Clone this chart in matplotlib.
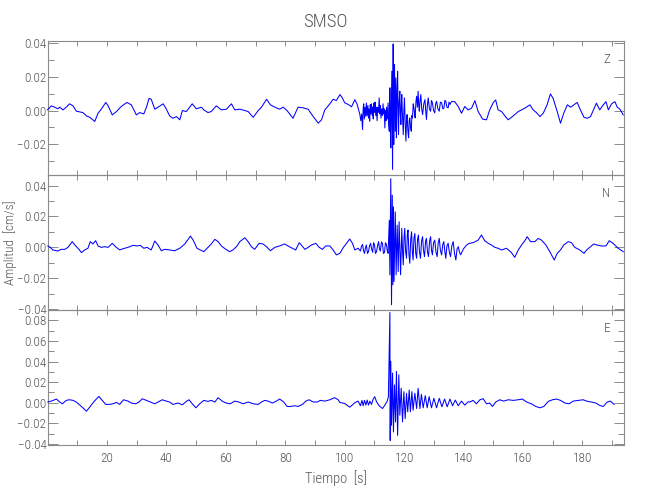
import matplotlib
matplotlib.use("Agg")
import matplotlib.pyplot as plt
from matplotlib.ticker import MultipleLocator, FuncFormatter
from matplotlib import font_manager

names = {f.name for f in font_manager.fontManager.ttflist}
fam = [n for n in ['Roboto Condensed', 'Liberation Sans Narrow', 'Open Sans Condensed',
                   'DejaVu Sans Condensed', 'Roboto', 'DejaVu Sans'] if n in names]
plt.rcParams['font.family'] = fam
plt.rcParams['font.weight'] = 'light'
plt.rcParams['axes.labelweight'] = 'light'

title = "SMSO"
xlabel = "Tiempo  [s]"
ylabel = "Amplitud  [cm/s]"
components = ["Z", "N", "E"]

# ---- Z component (time s, amplitude cm/s) ----
t_z = [0.0, 1.3, 2.4, 3.5, 4.1, 5.2, 6.3, 7.4, 8.6, 9.7, 10.8, 11.9, 13.1, 14.2, 15.9, 17.0, 18.1,
       19.6, 20.4, 21.8, 23.2, 24.8, 26.7, 28.2, 29.9, 31.0, 32.4, 33.3, 34.2, 34.9, 36.1, 37.2,
       38.9, 40.0, 41.1, 42.2, 43.4, 44.5, 45.4, 46.7, 48.7, 50.1, 51.8, 52.6, 54.0, 55.1, 56.8,
       58.5, 60.2, 61.9, 63.0, 64.7, 66.4, 67.5, 69.2, 70.9, 72.0, 73.7, 75.0, 76.5, 78.1, 79.3,
       80.6, 82.6, 84.3, 86.0, 87.7, 89.4, 91.1, 92.2, 93.3, 95.0, 96.1, 97.2,
       98.4, 99.2, 100.0, 101.2, 102.3, 103.4, 104.2,
       105.1, 105.4, 105.7, 106.0, 106.2, 106.4, 106.6, 106.85, 107.1, 107.3, 107.55, 107.8, 108.0,
       108.2, 108.4, 108.6, 108.8, 109.0, 109.25, 109.45, 109.6, 109.85, 110.05, 110.2, 110.45,
       110.65, 110.9, 111.1, 111.35, 111.6, 111.8, 112.0, 112.2, 112.45, 112.7, 112.9, 113.1,
       113.3, 113.5, 113.7, 113.9, 114.1, 114.35, 114.6, 114.8, 115.0,
       115.2, 115.35, 115.5, 115.7, 115.85, 116.0, 116.1, 116.2, 116.3, 116.4, 116.5, 116.6,
       116.75, 116.9, 117.0, 117.1, 117.2, 117.3, 117.4, 117.6, 117.8, 117.95, 118.1, 118.3,
       118.55, 118.7, 118.9, 119.05, 119.2, 119.45, 119.7, 119.9, 120.1, 120.35, 120.6, 120.8,
       121.0, 121.25, 121.5, 121.7, 121.9, 122.15, 122.4, 122.6, 122.8, 123.05, 123.3, 123.5,
       123.7, 123.95, 124.2, 124.45, 124.7, 124.9, 125.1, 125.35, 125.6, 125.9, 126.2, 126.6,
       127.0, 127.25, 127.5, 127.8, 128.1, 128.5, 128.9, 129.2, 129.5, 129.9, 130.3, 130.6, 130.9,
       131.35, 131.8, 132.2, 132.6, 133.0, 133.4, 133.7, 134.0, 134.4, 134.8, 135.1, 135.4,
       135.9, 137.0, 138.2, 139.3, 140.4, 141.5, 142.7, 143.8, 144.9, 146.4,
       147.7, 148.8, 150.0, 150.8, 151.6, 152.8, 153.9, 155.0, 156.7, 158.4, 159.5, 160.6, 162.3,
       163.4, 164.5, 165.7, 166.8, 168.1, 169.2, 170.1, 171.5, 172.6, 173.7, 174.9, 176.0, 177.1,
       178.2, 179.3, 180.5, 181.6, 182.7, 183.8, 184.7, 185.8, 187.0, 187.9, 188.7, 189.8, 190.9,
       191.7, 192.6, 193.7]
z = [0.0004, 0.0028, 0.0020, 0.0010, 0.0020, 0.0004, 0.0020, 0.0040, 0.0028, -0.0004, -0.0008,
     -0.0012, -0.0032, -0.0040, -0.0065, -0.0016, 0.0008, 0.0048, 0.0028, -0.0026, -0.0006, 0.0024,
     0.0048, 0.0034, -0.0026, -0.0012, -0.0020, 0.0020, 0.0073, 0.0067, 0.0008, 0.0020, 0.0040,
     0.0008, -0.0032, -0.0046, -0.0036, -0.0055, 0.0000, -0.0006, 0.0040, 0.0010, 0.0020, 0.0004,
     -0.0012, -0.0006, 0.0028, 0.0004, 0.0008, 0.0040, 0.0004, 0.0008, 0.0000, -0.0006, -0.0040,
     0.0000, 0.0020, 0.0067, 0.0034, 0.0020, 0.0008, 0.0020, 0.0000, -0.0046, 0.0020, 0.0016,
     0.0008, -0.0036, -0.0075, -0.0055, 0.0004, 0.0040, 0.0067, 0.0060,
     0.0095, 0.0075, 0.0046, 0.0036, 0.0022, 0.0065, 0.0036,
     -0.0024, -0.0060, -0.0020, -0.0113, 0.0010, 0.0040, -0.0050, 0.0020, -0.0035, 0.0045, -0.0030,
     0.0030, -0.0045, 0.0010, -0.0063, 0.0035, -0.0020, 0.0040, -0.0030, 0.0020, -0.0050, 0.0045,
     -0.0010, 0.0050, -0.0030, 0.0020, -0.0060, 0.0020, -0.0010, 0.0075, -0.0020, 0.0030, -0.0045,
     0.0010, -0.0030, 0.0040, -0.0020, 0.0010, -0.0103, 0.0000, -0.0060, 0.0020, -0.0050, 0.0045,
     -0.0080, -0.0123,
     0.0135, -0.0100, -0.0222, 0.0050, 0.0234, -0.0150, -0.0350, 0.0100, 0.0396, 0.0000, -0.0202,
     0.0050, 0.0273, 0.0000, -0.0123, 0.0050, 0.0194, 0.0000, -0.0162, 0.0100, 0.0234, 0.0000,
     -0.0143, 0.0050, 0.0115, -0.0020, -0.0083, 0.0030, 0.0095, -0.0040, -0.0143, 0.0000, 0.0075,
     -0.0080, -0.0182, -0.0050, -0.0024, -0.0120, -0.0162, -0.0060, -0.0044, -0.0100, -0.0123,
     -0.0030, -0.0044, 0.0040, 0.0016, -0.0020, -0.0044, 0.0050, 0.0085, 0.0020, 0.0115, 0.0030,
     -0.0004, 0.0060, 0.0095, 0.0010, -0.0024, 0.0040, 0.0065, 0.0000, -0.0053, 0.0030, 0.0075,
     0.0010, -0.0004, 0.0060, 0.0046, 0.0000, -0.0014, 0.0040, 0.0055, 0.0010, -0.0004, 0.0050,
     0.0046, 0.0010, 0.0016, 0.0060, 0.0055, 0.0020, 0.0016, 0.0050, 0.0036,
     0.0053, 0.0053, 0.0024, -0.0016, 0.0024, 0.0004, 0.0014, 0.0059, -0.0006, -0.0051,
     -0.0055, 0.0004, 0.0048, 0.0063, 0.0004, -0.0006, -0.0032, -0.0055, -0.0032, -0.0006, 0.0004,
     0.0014, 0.0034, 0.0004, -0.0012, -0.0036, -0.0016, 0.0034, 0.0099, 0.0073, -0.0006, -0.0075,
     -0.0016, 0.0034, 0.0020, 0.0034, 0.0048, 0.0004, -0.0040, -0.0046, -0.0036, 0.0008, 0.0044,
     0.0004, 0.0034, 0.0053, 0.0004, 0.0040, 0.0053, 0.0020, 0.0008, -0.0026]

# ---- N component ----
t_n = [0.1, 0.9, 1.8, 3.5, 4.6, 5.8, 6.9, 8.3, 9.5, 10.6, 11.4, 12.5, 13.6, 14.4, 15.3, 16.2, 17.0,
       18.1, 19.2, 20.4, 21.8, 22.9, 24.3, 25.4, 27.1, 28.8, 30.1, 31.2, 32.4, 33.5, 34.9, 36.1,
       37.2, 38.3, 39.4, 41.1, 42.8, 44.5, 46.2, 48.1, 49.0, 50.3, 51.4, 52.6, 54.0, 55.1, 56.3,
       57.4, 58.5, 60.0, 61.3, 62.4, 63.8, 64.7, 66.4, 67.5, 68.6, 69.7, 71.2, 72.5, 73.7, 75.0,
       76.5, 78.1, 79.8, 80.9, 82.4, 83.5, 84.7, 85.4, 86.6, 87.7, 88.8, 90.3, 91.4, 92.5, 93.6,
       95.0, 96.1, 97.2, 98.35, 99.5, 100.6, 101.7, 102.6, 103.4, 104.5,
       105.3, 105.6, 106.0, 106.3, 106.65, 107.0, 107.3, 107.65, 108.0, 108.35, 108.7, 109.05,
       109.4, 109.7, 110.0, 110.35, 110.7, 111.05, 111.4, 111.7, 112.0, 112.35, 112.7, 113.05,
       113.4, 113.7, 114.05, 114.3, 114.6,
       115.0, 115.2, 115.5, 115.75, 116.0, 116.2, 116.4, 116.6, 117.0, 117.3, 117.65, 118.0, 118.3,
       118.8,
       119.2, 119.45, 119.7, 119.95, 120.2, 120.5, 120.8, 121.05, 121.3, 121.6, 121.9, 122.2,
       122.5, 122.75, 123.0, 123.3, 123.6, 123.9, 124.2, 124.5, 124.8, 125.15, 125.5, 125.85,
       126.2, 126.5, 126.85, 127.2, 127.5, 127.85, 128.2, 128.55, 128.9, 129.2, 129.5, 129.9,
       130.3, 130.7, 131.1, 131.45, 131.8, 132.2, 132.6, 133.0, 133.35, 133.7, 134.0, 134.4,
       134.8, 135.2, 135.6, 136.05, 136.5, 136.95, 137.4, 137.8, 138.2, 138.6, 139.0,
       139.9, 141.0, 141.9, 143.2, 144.9, 146.0, 147.1, 148.3, 149.4,
       150.5, 151.6, 152.8, 154.4, 156.1, 157.2, 158.4, 159.5, 160.6, 161.4, 162.5, 164.0, 165.1,
       166.2, 167.7, 169.0, 170.5, 171.5, 172.6, 173.7, 175.2, 176.3, 177.4, 179.1, 180.5, 181.4,
       182.7, 183.8, 184.9, 186.4, 187.9, 189.0, 190.3, 192.0, 193.7]
n = [0.0009, 0.0000, -0.0017, -0.0024, -0.0013, -0.0013, 0.0000, 0.0037, 0.0009, -0.0013, -0.0034,
     -0.0017, -0.0006, 0.0037, 0.0022, 0.0043, 0.0009, 0.0000, 0.0004, 0.0000, 0.0026, 0.0004,
     -0.0017, -0.0009, 0.0000, 0.0013, 0.0009, 0.0013, -0.0006, 0.0000, -0.0017, 0.0041, 0.0015,
     -0.0022, -0.0013, -0.0017, -0.0022, -0.0006, 0.0022, 0.0073, 0.0047, -0.0006, -0.0017, -0.0028,
     0.0000, 0.0022, 0.0052, 0.0037, 0.0009, -0.0013, -0.0028, -0.0017, 0.0009, 0.0037, 0.0062,
     0.0037, 0.0004, -0.0013, 0.0026, 0.0022, 0.0004, -0.0022, 0.0000, 0.0009, 0.0022, 0.0009,
     -0.0006, -0.0017, 0.0030, 0.0015, -0.0013, 0.0000, 0.0015, 0.0026, 0.0000, -0.0013, 0.0009,
     0.0009, -0.0017, -0.0049, -0.0039, -0.0002, 0.0026, 0.0054, 0.0026, -0.0017, -0.0006,
     -0.0024, 0.0005, 0.0019, -0.0020, -0.0039, 0.0000, 0.0015, -0.0040, -0.0028, 0.0010, 0.0026,
     -0.0010, -0.0032, 0.0030, 0.0019, -0.0040, -0.0028, 0.0010, 0.0037, -0.0010, -0.0024, 0.0035,
     0.0026, -0.0040, -0.0032, 0.0030, 0.0019, -0.0020, -0.0039,
     0.0176, -0.0178, 0.0445, -0.0372, 0.0338, -0.0243, 0.0262, -0.0221, 0.0230, -0.0178, 0.0144,
     -0.0157, 0.0166, -0.0178,
     0.0123, -0.0020, -0.0114, 0.0060, 0.0123, -0.0030, -0.0071, 0.0080, 0.0112, -0.0040, -0.0103,
     0.0050, 0.0101, -0.0030, -0.0082, 0.0060, 0.0090, -0.0040, -0.0071, 0.0050, 0.0080, -0.0030,
     -0.0071, 0.0040, 0.0069, -0.0020, -0.0060, 0.0040, 0.0058, -0.0030, -0.0060, 0.0040, 0.0069,
     -0.0020, -0.0049, 0.0030, 0.0047, -0.0030, -0.0060, 0.0030, 0.0058, -0.0020, -0.0049, 0.0020,
     0.0037, -0.0030, -0.0071, 0.0010, 0.0026, -0.0030, -0.0060, 0.0010, 0.0037, -0.0040, -0.0082,
     -0.0010, 0.0004, -0.0030, -0.0049,
     -0.0011, 0.0015, 0.0026, 0.0030, 0.0047, 0.0080, 0.0043, 0.0026, 0.0015,
     0.0000, -0.0006, -0.0017, -0.0006, -0.0034, -0.0065, -0.0017, 0.0015, 0.0043, 0.0069,
     0.0037, 0.0037, 0.0058, 0.0047, 0.0015, -0.0028, -0.0082, -0.0039, -0.0017, 0.0015, 0.0037,
     0.0030, 0.0000, -0.0017, -0.0039, -0.0017, 0.0004, 0.0022, 0.0015, 0.0009, 0.0009, 0.0043,
     0.0026, -0.0006, -0.0028]

# ---- E component ----
t_e = [0.1, 1.3, 3.0, 4.1, 5.0, 6.3, 7.4, 8.6, 9.7, 11.4, 13.1, 14.2, 15.5, 17.3, 18.4, 19.6, 20.9,
       22.0, 23.2, 24.3, 25.6, 27.1, 28.2, 29.7, 30.8, 31.9, 33.3, 34.6, 36.1, 37.2, 38.6, 40.0,
       41.1, 42.2, 43.9, 45.4, 46.7, 47.6, 48.7, 49.9, 51.2, 52.6, 54.0, 55.1, 56.3, 57.4, 58.9,
       60.2, 61.5, 63.0, 64.4, 65.8, 67.5, 69.2, 70.9, 72.0, 73.1, 74.2, 75.7, 77.0, 78.1, 79.5,
       80.6, 81.7, 83.2, 84.3, 85.8, 86.9, 88.0, 89.4, 90.7, 91.8, 93.3, 95.0, 96.6, 97.8,
       98.35, 100.0, 101.7, 103.4, 104.5, 105.3, 105.8, 106.2, 106.65, 107.1, 107.55, 108.0,
       108.45, 109.0, 109.6, 110.1, 110.7, 111.6, 112.7, 113.5, 114.3, 114.7, 115.2, 115.3, 115.5,
       115.75, 116.1, 116.4, 116.75, 117.1, 117.4, 117.8, 118.2, 118.55, 119.0, 119.45, 119.9,
       120.35, 120.8, 121.2, 121.7, 122.1, 122.6, 123.0, 123.6, 124.2, 124.7, 125.3, 125.8, 126.4,
       127.1, 127.75, 128.4, 129.2, 130.0, 130.9, 131.8, 132.7, 133.6, 134.5, 135.4, 136.3, 137.2,
       138.2, 139.3, 140.4, 141.55, 142.1, 143.2, 144.3, 145.5, 146.6, 147.7, 148.8, 149.7, 150.8,
       152.2, 153.5, 155.0, 156.7, 158.4, 159.8, 161.2, 162.8, 164.3, 165.7, 167.0, 168.5, 169.9,
       171.3, 172.6, 174.1, 175.5, 176.9, 178.6, 180.2, 181.4, 183.0, 184.5, 185.8, 187.0, 188.3,
       189.4, 190.6]
e = [0.0007, 0.0016, 0.0036, 0.0007, -0.0010, 0.0023, 0.0029, 0.0023, 0.0007, -0.0036, -0.0082,
     -0.0043, 0.0007, 0.0062, 0.0023, -0.0016, -0.0016, -0.0010, 0.0003, -0.0016, 0.0029, 0.0016,
     -0.0003, -0.0010, 0.0007, 0.0039, 0.0023, 0.0007, -0.0010, 0.0007, 0.0029, 0.0016, 0.0007,
     -0.0016, -0.0003, -0.0020, 0.0013, 0.0029, -0.0010, -0.0049, -0.0010, 0.0023, 0.0013, 0.0023,
     0.0007, 0.0049, 0.0013, -0.0003, -0.0010, 0.0016, 0.0007, -0.0010, 0.0007, -0.0010, -0.0016,
     0.0007, 0.0023, 0.0016, -0.0003, 0.0016, 0.0036, 0.0007, -0.0036, -0.0036, -0.0029, -0.0036,
     -0.0016, 0.0016, 0.0029, 0.0007, 0.0007, 0.0023, 0.0016, 0.0029, 0.0049, 0.0029,
     0.0003, -0.0007, -0.0043, 0.0000, 0.0016, -0.0029, 0.0023, -0.0029, 0.0023, -0.0023, 0.0026,
     -0.0023, 0.0016, -0.0016, 0.0036, 0.0059, 0.0010, -0.0029, -0.0056, -0.0023, 0.0016, 0.0059,
     0.0876, -0.0366, 0.0402, -0.0219, 0.0288, -0.0284, 0.0173, -0.0186, 0.0304, -0.0317, 0.0271,
     -0.0121, 0.0141, -0.0186, 0.0108, -0.0154, 0.0092, -0.0088, 0.0124, -0.0088, 0.0108, -0.0072,
     0.0092, -0.0056, 0.0141, -0.0056, 0.0082, -0.0049, 0.0069, -0.0049, 0.0059, -0.0049, 0.0043,
     -0.0049, 0.0043, -0.0039, 0.0036, -0.0039, 0.0036, -0.0029, 0.0026, -0.0029, 0.0016, -0.0023,
     0.0010, 0.0007, 0.0023, -0.0010, 0.0029, 0.0039, -0.0010, -0.0003, -0.0036, 0.0007, 0.0029,
     0.0016, 0.0029, 0.0023, 0.0029, 0.0036, 0.0007, -0.0010, -0.0036, -0.0049, -0.0036, 0.0013,
     0.0029, 0.0036, 0.0023, -0.0003, -0.0010, 0.0016, 0.0023, 0.0029, 0.0016, 0.0007, -0.0003,
     -0.0026, -0.0036, 0.0007, 0.0016, -0.0016]

series = [(t_z, z), (t_n, n), (t_e, e)]
ylims = [(-0.0383, 0.0415), (-0.0403, 0.0469), (-0.041, 0.0905)]
yticks = [[-0.02, 0.0, 0.02, 0.04], [-0.04, -0.02, 0.0, 0.02, 0.04],
          [-0.04, -0.02, 0.0, 0.02, 0.04, 0.06, 0.08]]
xlim = (0.1, 193.8)

TXT = '#555555'
AX = '#8a8a8a'
W, H = 650, 500
fig = plt.figure(figsize=(W / 100, H / 100), dpi=100)

left = 47.8 / W
width = (623.5 - 47.8) / W
edges = [40.7, 175.0, 309.5, 445.0]
fmt = FuncFormatter(lambda v, p: ('\u2212' if v < -1e-9 else '') + f"{abs(v):.2f}")
axes = []
for i in range(3):
    top_px, bot_px = edges[i], edges[i + 1]
    ax = fig.add_axes([left, 1 - bot_px / H, width, (bot_px - top_px) / H])
    axes.append(ax)
    tt, vv = series[i]
    ax.plot(tt, vv, color='#0000ff', lw=0.75, clip_on=False, zorder=3)
    ax.set_xlim(*xlim)
    ax.set_ylim(*ylims[i])
    ax.set_yticks(yticks[i])
    ax.yaxis.set_minor_locator(MultipleLocator(0.01))
    ax.xaxis.set_major_locator(MultipleLocator(20))
    ax.xaxis.set_minor_locator(MultipleLocator(10))
    ax.yaxis.set_major_formatter(fmt)
    for s in ax.spines.values():
        s.set_color(AX)
        s.set_linewidth(0.8)
    ax.tick_params(axis='y', which='major', direction='in', length=7.5, width=0.7,
                   color=AX, labelcolor=TXT, labelsize=9.5, left=True, right=True, pad=1)
    ax.tick_params(axis='y', which='minor', direction='in', length=4, width=0.7,
                   color=AX, left=True, right=True)
    ax.tick_params(axis='x', which='both', direction='in', length=3.5, width=0.7,
                   color=AX, labelcolor=TXT, labelsize=9.5, top=True, bottom=True, pad=5)
    if i < 2:
        ax.tick_params(axis='x', labelbottom=False)
    ax.text(0.977, 0.86, components[i], transform=ax.transAxes, ha='right', va='center',
            color=TXT, fontsize=9.5)
    ax.set_facecolor('none')

axes[2].set_xlabel(xlabel, color=TXT, fontsize=10.5, labelpad=4, fontweight='light')
fig.text(0.5, 1 - 22 / H, title, ha='center', va='center', color=TXT, fontsize=13.5)
fig.text(10 / W, 1 - 243 / H, ylabel, rotation=90, ha='center', va='center', color=TXT,
         fontsize=9.5)

fig.savefig('out.png', dpi=100, facecolor='white')
